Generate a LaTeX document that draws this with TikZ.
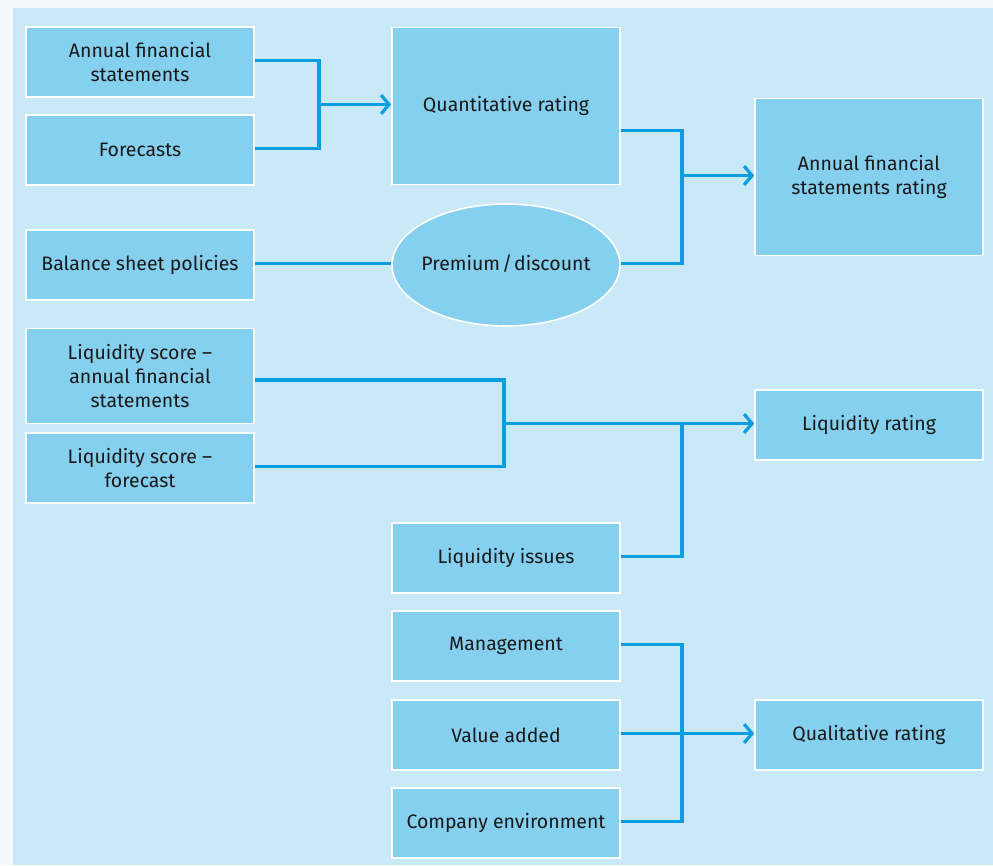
\documentclass[tikz,border=0pt]{standalone}
\usepackage{fontspec}
\setmainfont{Fira Sans}
\usetikzlibrary{arrows.meta,shapes.geometric}
\definecolor{pagebg}{HTML}{F4F9FD}
\definecolor{panelbg}{HTML}{C9E8F8}
\definecolor{boxfill}{HTML}{85CFEF}
\definecolor{linkblue}{HTML}{0A9EE0}
\begin{document}
\begin{tikzpicture}[
  x=0.75pt, y=-0.75pt,
  every node/.style={align=center,font=\fontsize{14.6}{18}\selectfont,text=black!90},
  box/.style={draw=white,line width=1.2pt,fill=boxfill,minimum width=171pt,minimum height=52.5pt,inner sep=2pt},
  tallbox/.style={box,minimum height=117.75pt},
  oval/.style={ellipse,draw=white,line width=1.2pt,fill=boxfill,minimum width=171pt,minimum height=91.5pt,inner sep=0pt},
  link/.style={draw=linkblue,line width=2.4pt},
  arrow/.style={link,-{Straight Barb[length=6pt,width=14pt,line width=2.4pt]}}
]
\fill[pagebg] (0,0) rectangle (993,865);
\fill[panelbg] (13,8) rectangle (993,865);
\useasboundingbox (0,0) rectangle (993,865);

\node[box] (afs) at (140,62) {Annual financial\\statements};
\node[box] (fc) at (140,150) {Forecasts};
\node[box] (bsp) at (140,265) {Balance sheet policies};
\node[box,minimum height=71.25pt] (lsa) at (140,376) {Liquidity score --\\annual financial\\statements};
\node[box] (lsf) at (140,468) {Liquidity score --\\forecast};

\node[tallbox] (qr) at (506,106) {Quantitative rating};
\node[oval] (pd) at (506,265) {\raisebox{4pt}{\makebox[100pt]{Premium\kern1.5pt/\kern1.5pt discount}}};
\node[box] (li) at (506,558) {Liquidity issues};
\node[box] (mg) at (506,646) {Management};
\node[box] (va) at (506,735) {Value added};
\node[box] (ce) at (506,823) {Company environment};

\node[tallbox] (afsr) at (869,177) {Annual financial\\statements rating};
\node[box] (lr) at (869,425) {Liquidity rating};
\node[box] (qlr) at (869,735) {Qualitative rating};

\coordinate (j1) at (319,104.5);
\coordinate (j2) at (682,175.5);
\coordinate (j3) at (504,423.5);
\coordinate (j4) at (682,423.5);
\coordinate (j5) at (682,733.5);

\draw[link] ([yshift=1pt]afs.east) -| (j1) |- ([yshift=1pt]fc.east);
\draw[arrow] (j1) -- (j1 -| qr.west);
\draw[link] ([yshift=-18.5pt]qr.east) -| (j2) |- ([yshift=1pt]pd.east);
\draw[arrow] (j2) -- (j2 -| afsr.west);
\draw[link] ([yshift=1pt]bsp.east) -- ([yshift=1pt]pd.west);
\draw[link] ([yshift=-3pt]lsa.east) -| (j3) |- ([yshift=1pt]lsf.east);
\draw[arrow] (j3) -- (j3 -| lr.west);
\draw[link] ([yshift=1pt]li.east) -| (j4);
\draw[link] ([yshift=1pt]mg.east) -| (j5) |- ([yshift=1pt]ce.east);
\draw[arrow] (va.east |- j5) -- (j5 -| qlr.west);
\end{tikzpicture}
\end{document}
